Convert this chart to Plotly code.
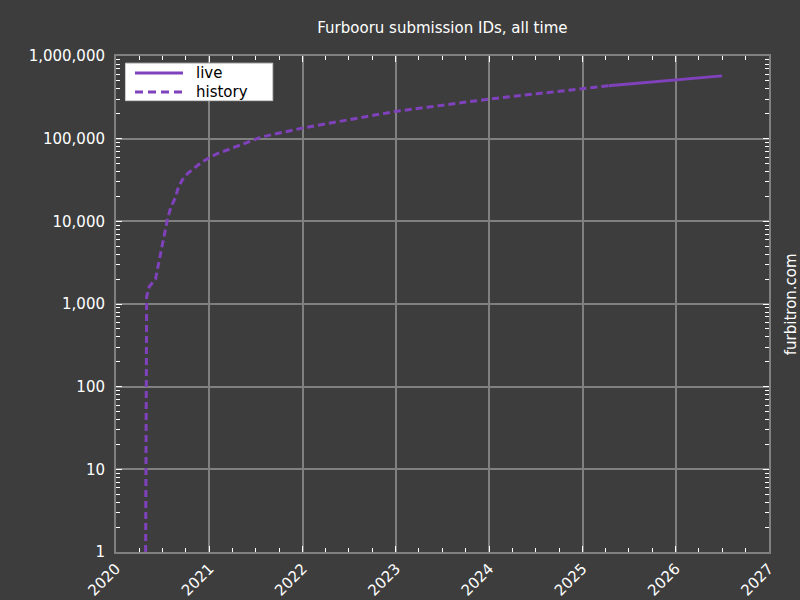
import plotly.graph_objects as go

# history series (dates, submission id)
hist_dates = [
    "2020-04-26", "2020-04-30", "2020-05-10", "2020-06-04", "2020-06-12",
    "2020-06-28", "2020-07-13", "2020-07-23", "2020-08-04", "2020-08-21",
    "2020-08-31", "2020-09-16", "2020-10-08", "2020-11-05", "2020-11-29",
    "2021-01-01", "2021-02-01", "2021-03-09", "2021-05-16", "2021-07-24",
    "2022-01-03", "2023-01-01", "2024-01-04", "2025-01-01", "2025-04-13",
]
hist_ids = [
    1, 1230, 1620, 2000, 2700,
    4900, 8700, 11500, 15100, 19500,
    25100, 31600, 38000, 44700, 51300,
    58900, 66100, 72400, 87000, 105000,
    135000, 214000, 302000, 398000, 437000,
]

live_dates = ["2025-04-13", "2026-01-01", "2026-07-01"]
live_ids = [437000, 513000, 575000]

y_ticks = [1, 10, 100, 1000, 10000, 100000, 1000000]
x_ticks = [f"{y}-01-01" for y in range(2020, 2028)]
x_labels = [str(y) for y in range(2020, 2028)]

bg = "#3d3d3d"
grid = "#808080"
purple = "#8041bc"
font = "DejaVu Sans"
hist_dash = "7px,4px"

fig = go.Figure()
fig.add_trace(go.Scatter(x=live_dates, y=live_ids, mode="lines", name="live",
                         line=dict(color=purple, width=3), showlegend=False))
fig.add_trace(go.Scatter(x=hist_dates, y=hist_ids, mode="lines", name="history",
                         line=dict(color=purple, width=3, dash=hist_dash),
                         showlegend=False))

fig.update_layout(
    width=800, height=600,
    paper_bgcolor=bg, plot_bgcolor=bg,
    margin=dict(l=116, r=31, t=56, b=48),
    font=dict(family=font, color="white", size=15),
    title=dict(text="Furbooru submission IDs, all time", x=0.553, xanchor="center",
               y=0.953, yanchor="middle", font=dict(size=15, color="white")),
)

fig.update_xaxes(
    type="date", range=["2020-01-01", "2027-01-01"], automargin=False,
    tickmode="array", tickvals=x_ticks, ticktext=x_labels, tickangle=-45,
    showgrid=True, gridcolor=grid, gridwidth=2,
    showline=True, linecolor=grid, linewidth=2, mirror="allticks",
    ticks="inside", ticklen=6, tickcolor="white", tickwidth=1,
    minor=dict(ticks="inside", ticklen=4, tickcolor="white", dtick="M3",
               showgrid=False, tick0="2020-01-01"),
    zeroline=False, tickfont=dict(size=15),
)
fig.update_yaxes(
    type="log", range=[0, 6], automargin=False,
    tickmode="array", tickvals=y_ticks, tickformat=",d",
    showgrid=True, gridcolor=grid, gridwidth=2,
    showline=True, linecolor=grid, linewidth=2, mirror="allticks",
    ticks="inside", ticklen=6, tickcolor="white", tickwidth=1,
    minor=dict(ticks="inside", ticklen=4, tickcolor="white", dtick="D1",
               showgrid=False),
    zeroline=False, tickfont=dict(size=15), ticklabelstandoff=6,
)

# legend box drawn by hand to match the compact matplotlib-style legend
fig.add_shape(type="rect", xref="paper", yref="paper",
              x0=0.0145, x1=0.2400, y0=0.9100, y1=0.9855,
              fillcolor="white", line=dict(color="#cccccc", width=1), layer="above")
for name, y, dash in [("live", 0.9657, "solid"), ("history", 0.9274, "8px,5px")]:
    fig.add_shape(type="line", xref="paper", yref="paper",
                  x0=0.0291, x1=0.1026, y0=y, y1=y, layer="above",
                  line=dict(color=purple, width=3, dash=dash))
    fig.add_annotation(text=name, xref="paper", yref="paper", x=0.1194, y=y,
                       xanchor="left", yanchor="middle", showarrow=False,
                       font=dict(size=15, color="black"))

fig.add_annotation(text="furbitron.com", textangle=-90,
                   xref="paper", yref="paper", x=1.034, y=0.5,
                   xanchor="center", yanchor="middle", showarrow=False,
                   font=dict(size=15, color="white"))

fig.write_html("out.html", config={"displayModeBar": False},
               post_script="document.body.style.margin='0';")
